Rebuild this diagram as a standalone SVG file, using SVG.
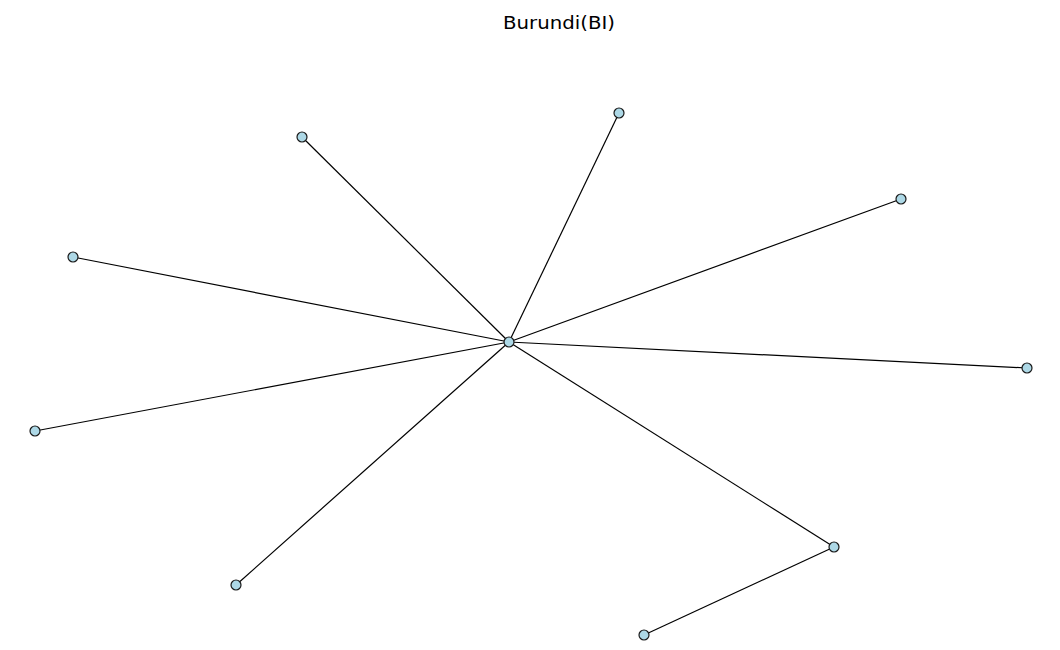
<svg xmlns="http://www.w3.org/2000/svg" width="1060" height="650" viewBox="0 0 1060 650">
<style>
.n{fill:#add8e6;stroke:#1a1a1a;stroke-width:1.2}
.e{stroke:#000;stroke-width:1.2;fill:none}
</style>
<rect width="1060" height="650" fill="#fff"/>
<text font-family="DejaVu Sans, Verdana, sans-serif" font-size="17" x="503" y="29" textLength="112" lengthAdjust="spacingAndGlyphs">Burundi(BI)</text>
<g id="edges">
<line class="e" x1="509" y1="342" x2="302" y2="137"/>
<line class="e" x1="509" y1="342" x2="619" y2="113"/>
<line class="e" x1="509" y1="342" x2="901" y2="199"/>
<line class="e" x1="509" y1="342" x2="73" y2="257"/>
<line class="e" x1="509" y1="342" x2="1027" y2="368"/>
<line class="e" x1="509" y1="342" x2="35" y2="431"/>
<line class="e" x1="509" y1="342" x2="236" y2="585"/>
<line class="e" x1="509" y1="342" x2="834" y2="547"/>
<line class="e" x1="834" y1="547" x2="644" y2="635"/>
</g>
<g id="n0"><circle class="n" cx="509" cy="342" r="5"/></g>
<g id="n1"><circle class="n" cx="302" cy="137" r="5"/></g>
<g id="n2"><circle class="n" cx="619" cy="113" r="5"/></g>
<g id="n3"><circle class="n" cx="901" cy="199" r="5"/></g>
<g id="n4"><circle class="n" cx="73" cy="257" r="5"/></g>
<g id="n5"><circle class="n" cx="1027" cy="368" r="5"/></g>
<g id="n6"><circle class="n" cx="35" cy="431" r="5"/></g>
<g id="n7"><circle class="n" cx="236" cy="585" r="5"/></g>
<g id="n8"><circle class="n" cx="834" cy="547" r="5"/></g>
<g id="n9"><circle class="n" cx="644" cy="635" r="5"/></g>
</svg>
